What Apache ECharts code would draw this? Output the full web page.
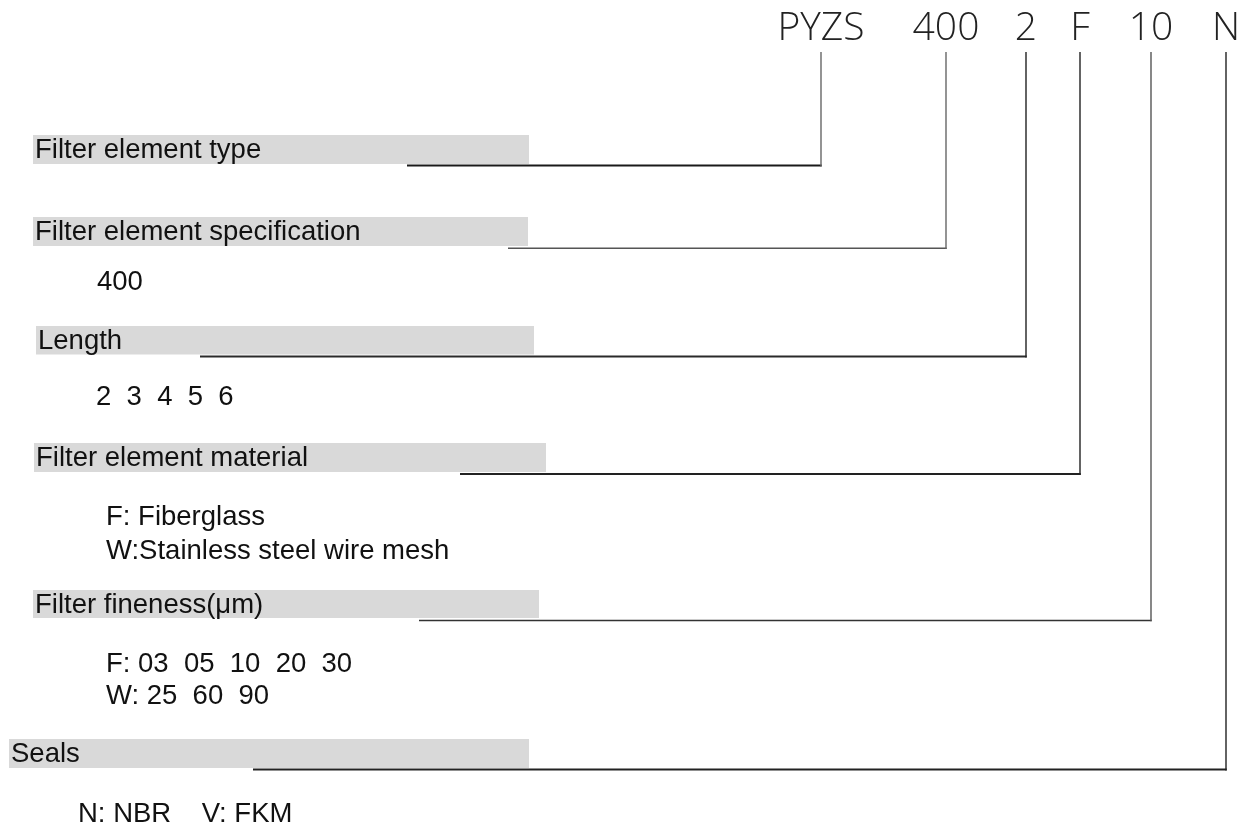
<!DOCTYPE html>
<html>
<head>
<meta charset="utf-8">
<script src="https://cdn.jsdelivr.net/npm/echarts@6/dist/echarts.min.js"></script>
<style>
html,body{margin:0;padding:0;background:#fff;}
#c{width:1256px;height:830px;}
</style>
</head>
<body>
<div id="c"></div>
<script>
// ---------- content ----------
const codes = ['PYZS', '400', '2', 'F', '10', 'N'];
const fields = [
  'Filter element type',
  'Filter element specification',
  'Length',
  'Filter element material',
  'Filter fineness(\u03bcm)',
  'Seals'
];
const options = [
  [],
  ['400'],
  ['2  3  4  5  6'],
  ['F: Fiberglass', 'W:Stainless steel wire mesh'],
  ['F: 03  05  10  20  30', 'W: 25  60  90'],
  ['N: NBR    V: FKM']
];

// ---------- layout (canvas units, 1256 x 830) ----------
const codeX = [821, 946, 1026, 1080, 1151, 1226];
const codeY = 29;
const stemTop = 52;
const boxLeft = [33, 33, 36, 34, 33, 9];
const boxRight = [529, 528, 534, 546, 539, 529];
const boxTop = [135, 217, 326, 443, 590, 739];
const boxBottom = [164, 246, 354.5, 472, 618, 768];
const labelX = [35, 35, 38, 36, 35, 11];
const leaderX = [407, 508, 200, 460, 419, 253];
const leaderY = [165.5, 248.3, 356.5, 474, 620.5, 769.5];
const optionX = [0, 97, 96, 106, 106, 78];
const optionY = [[], [282], [397], [517, 551], [664, 696], [814]];

// ---------- styles ----------
const BODY_FONT = "'Liberation Sans', Arial, Helvetica, sans-serif";
const CODE_FONT = "'Open Sans', 'Noto Sans', sans-serif";
const BODY_SIZE = 27.5;
const hColor = ['#1a1a1a', '#555', '#2a2a2a', '#222', '#333', '#222'];
const hWidth = [2.2, 1.5, 1.9, 2.1, 1.7, 1.9];
const vColor = ['#666', '#666', '#222', '#222', '#555', '#222'];
const vWidth = 1.4;

const boxData = fields.map((f, i) => [boxLeft[i], boxTop[i], boxRight[i], boxBottom[i]]);
const leaderData = fields.map((f, i) => [leaderX[i], leaderY[i], codeX[i], stemTop]);
const codeData = codes.map((c, i) => [codeX[i], codeY]);
const optionData = [];
const optionText = [];
options.forEach((list, r) => {
  list.forEach((t, k) => {
    optionData.push([optionX[r], optionY[r][k]]);
    optionText.push(t);
  });
});

const chart = echarts.init(document.getElementById('c'));
chart.setOption({
  animation: false,
  backgroundColor: '#ffffff',
  grid: { left: 0, right: 0, top: 0, bottom: 0 },
  xAxis: { type: 'value', min: 0, max: 1256, show: false },
  yAxis: { type: 'value', min: 0, max: 830, inverse: true, show: false },
  series: [
    {
      type: 'custom',
      name: 'boxes',
      data: boxData,
      renderItem: function (params, api) {
        const i = params.dataIndex;
        const p0 = api.coord([api.value(0), api.value(1)]);
        const p1 = api.coord([api.value(2), api.value(3)]);
        const t = api.coord([labelX[i], (api.value(1) + api.value(3)) / 2 + 1]);
        return {
          type: 'group',
          children: [
            { type: 'rect', shape: { x: p0[0], y: p0[1], width: p1[0] - p0[0], height: p1[1] - p0[1] },
              style: { fill: '#d9d9d9' } },
            { type: 'text', style: { text: fields[i], x: t[0], y: t[1], fill: '#111',
              fontSize: BODY_SIZE, fontFamily: BODY_FONT, align: 'left', verticalAlign: 'middle' } }
          ]
        };
      }
    },
    {
      type: 'custom',
      name: 'leaders',
      data: leaderData,
      renderItem: function (params, api) {
        const i = params.dataIndex;
        const a = api.coord([api.value(0), api.value(1)]);
        const b = api.coord([api.value(2), api.value(1)]);
        const c = api.coord([api.value(2), api.value(3)]);
        return {
          type: 'group',
          children: [
            { type: 'line', shape: { x1: a[0], y1: a[1], x2: b[0] + vWidth / 2, y2: b[1] },
              style: { stroke: hColor[i], lineWidth: hWidth[i] } },
            { type: 'line', shape: { x1: b[0], y1: b[1] + hWidth[i] / 2, x2: c[0], y2: c[1] },
              style: { stroke: vColor[i], lineWidth: vWidth } }
          ]
        };
      }
    },
    {
      type: 'custom',
      name: 'codes',
      data: codeData,
      renderItem: function (params, api) {
        const p = api.coord([api.value(0), api.value(1)]);
        return { type: 'text', style: { text: codes[params.dataIndex], x: p[0], y: p[1], fill: '#222',
          fontSize: 39, fontWeight: 300, fontFamily: CODE_FONT, align: 'center', verticalAlign: 'middle' } };
      }
    },
    {
      type: 'custom',
      name: 'options',
      data: optionData,
      renderItem: function (params, api) {
        const p = api.coord([api.value(0), api.value(1)]);
        return { type: 'text', style: { text: optionText[params.dataIndex], x: p[0], y: p[1], fill: '#111',
          fontSize: BODY_SIZE, fontFamily: BODY_FONT, align: 'left', verticalAlign: 'middle' } };
      }
    }
  ]
});
</script>
</body>
</html>
